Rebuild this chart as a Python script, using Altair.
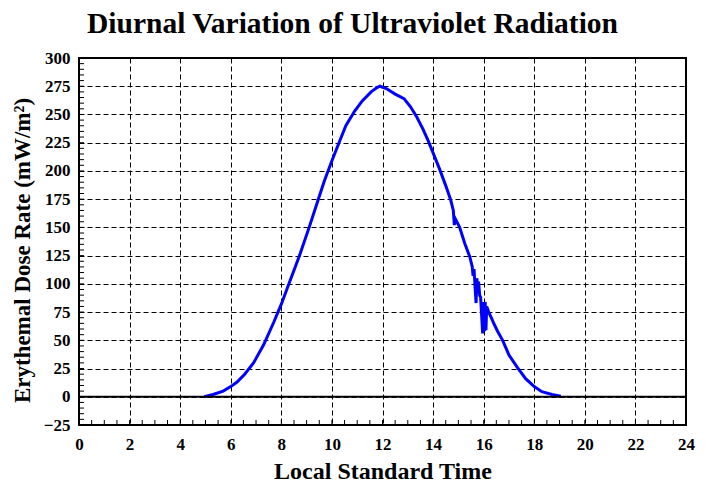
import altair as alt
import pandas as pd

# Data
hours = [4.95, 5.3, 5.7, 6.0, 6.25, 6.55, 6.9, 7.3, 7.7, 8.0, 8.3, 8.55, 8.75,
         9.1, 9.45, 9.7, 10.0, 10.3, 10.55, 10.9, 11.2, 11.55, 11.8, 11.9,
         12.15, 12.5, 12.85, 13.1, 13.35, 13.6, 13.8, 14.0, 14.25, 14.5, 14.7,
         14.8, 14.84, 14.87, 15.05, 15.25, 15.45, 15.55, 15.58, 15.62, 15.66,
         15.7, 15.73, 15.77, 15.8, 15.84, 15.88, 15.92, 15.96, 16.0, 16.03,
         16.06, 16.09, 16.12, 16.2, 16.3, 16.42, 16.55, 16.75, 17.0, 17.33,
         17.66, 18.0, 18.3, 18.7, 19.05]
dose = [0, 2, 5, 9, 13, 20, 30, 46, 66, 82, 100, 115, 127,
        150, 174, 191, 209, 226, 240, 253, 262, 270, 274, 275,
        273, 268, 264, 257, 248, 237, 227, 216, 202, 187, 174,
        165, 152, 158, 150, 136, 124, 115, 107, 113, 97,
        83, 105, 94, 102, 90, 88, 72, 56, 84, 58,
        84, 59, 80, 75, 70, 64, 58, 50, 37, 26,
        16, 9, 4.5, 2, 0.5]

x_labels = list(range(0, 25, 2))
y_labels = list(range(-25, 301, 25))
x_minor = [h / 2 for h in range(0, 49)]
y_minor = list(range(-25, 301, 5))

W, H = 607, 367
FONT = "Liberation Serif"

df = pd.DataFrame({"time": hours, "rate": dose})
xs = alt.Scale(domain=[0, 24], nice=False, zero=False)
ys = alt.Scale(domain=[-25, 300], nice=False, zero=False)

x_axis = alt.Axis(values=x_labels, title="Local Standard Time",
                  labelPadding=11, titleY=46, titleFontSize=24)
y_axis = alt.Axis(values=y_labels, title="Erythemal Dose Rate (mW/m²)",
                  labelPadding=9, titleX=-57, titleY=192, titleAngle=270)

line = alt.Chart(df).mark_line(color="#0000ff", strokeWidth=3).encode(
    x=alt.X("time:Q", scale=xs, axis=x_axis),
    y=alt.Y("rate:Q", scale=ys, axis=y_axis),
)

zero = alt.Chart(pd.DataFrame({"rate": [0]})).mark_rule(
    color="black", strokeWidth=2).encode(
    y=alt.Y("rate:Q", scale=ys, axis=y_axis))

xt = alt.Chart(pd.DataFrame({"time": x_minor})).mark_rule(
    color="black", strokeWidth=1).encode(
    x=alt.X("time:Q", scale=xs, axis=x_axis),
    y=alt.value(H), y2=alt.value(H - 5))

yt = alt.Chart(pd.DataFrame({"rate": y_minor})).mark_rule(
    color="black", strokeWidth=1).encode(
    y=alt.Y("rate:Q", scale=ys, axis=y_axis),
    x=alt.value(0), x2=alt.value(5))

chart = alt.layer(line, zero, xt, yt).properties(
    width=W, height=H,
    title=alt.TitleParams("Diurnal Variation of Ultraviolet Radiation",
                          font=FONT, fontSize=29.5, fontWeight="bold",
                          color="black", anchor="middle", frame="group",
                          dx=-30, offset=10),
    autosize=alt.AutoSizeParams(type="none"),
    padding={"left": 71, "top": 50, "right": 15, "bottom": 60},
    background="white",
).configure_axis(
    grid=True, gridDash=[5, 3], gridColor="black", gridWidth=1, gridOpacity=1,
    tickSize=0, domain=False, labelFont=FONT, labelFontSize=17,
    labelFontWeight="bold", labelColor="black", labelFlush=False,
    labelOverlap=False, titleFont=FONT, titleFontSize=23,
    titleFontWeight="bold", titleColor="black", titleBaseline="middle",
).configure_view(stroke="black", strokeWidth=2)

chart.save("out.html", embed_options={"renderer": "svg", "actions": False})
